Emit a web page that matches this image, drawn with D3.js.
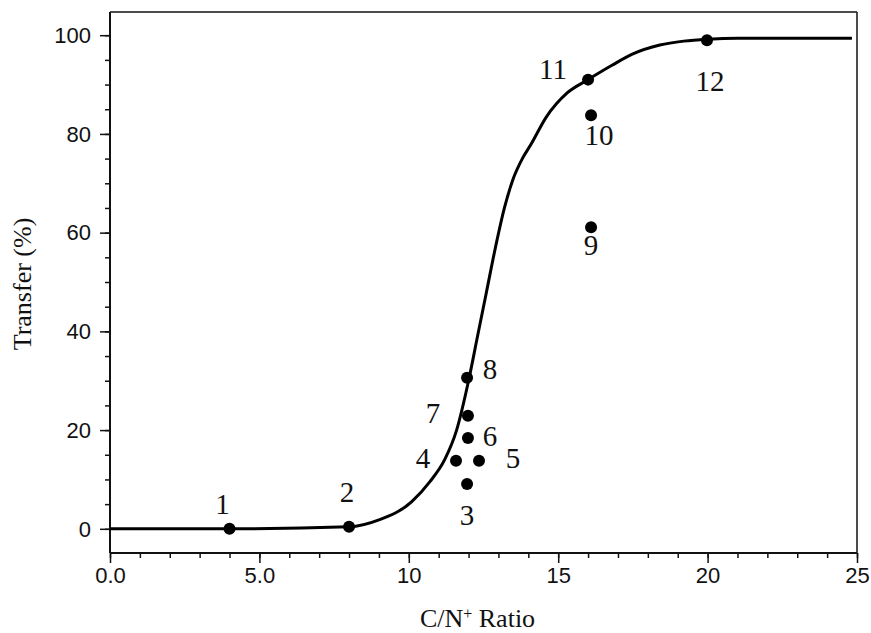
<!DOCTYPE html>
<html>
<head>
<meta charset="utf-8">
<script src="https://cdnjs.cloudflare.com/ajax/libs/d3/7.8.5/d3.min.js"></script>
<style>
  body { margin:0; background:#fff; }
</style>
</head>
<body>
<div id="plot"></div>
<script>
// measured points (C/N+ ratio vs transfer %)
var pointIds = ['1','2','3','4','5','6','7','8','9','10','11','12'];
var pointX = [4.0, 8.0, 11.95, 11.58, 12.35, 11.98, 11.98, 11.95, 16.1, 16.1, 16.0, 19.98];
var pointY = [0, 0.4, 9.1, 13.8, 13.8, 18.4, 22.9, 30.6, 61.1, 83.8, 91.0, 99.0];

// fitted curve
var curveX = [0, 4, 8, 9.0, 10.1, 10.7, 11.2, 11.6, 12.0, 12.3, 12.6, 12.9, 13.2, 13.5, 13.8, 14.1, 14.6, 15.3, 16.0, 16.8, 17.5, 18.4, 19.2, 20.0, 21.0, 24.83];
var curveY = [0, 0, 0.4, 1.8, 5.5, 9.5, 14.0, 20.0, 30.0, 39.0, 48.0, 57.0, 65.0, 71.0, 75.0, 78.0, 83.4, 88.3, 91.0, 93.9, 96.2, 98.0, 98.8, 99.2, 99.4, 99.4];

var xTicks = [0, 5, 10, 15, 20, 25];
var xTickLabels = ['0.0', '5.0', '10', '15', '20', '25'];
var yTicks = [0, 20, 40, 60, 80, 100];

var SANS = '"Liberation Sans", Arial, sans-serif',
    SERIF = '"Liberation Serif", "Times New Roman", serif';

var margin = {t:12, r:14, b:80, l:110};
var W = 871, H = 633;
var width = W - margin.l - margin.r,
    height = H - margin.t - margin.b;

var svg = d3.select('#plot')
    .append('svg')
    .attr('width', W)
    .attr('height', H);

var plot = svg.append('g')
    .attr('transform', 'translate(' + margin.l + ',' + margin.t + ')');

var x = d3.scaleLinear().domain([0, 25]).range([0, width]);
var y = d3.scaleLinear().domain([-4.9, 104.7]).range([height, 0]);

// frame: top and right are thin, left and bottom are the real axes
plot.append('line').attr('x1', 0).attr('x2', width).attr('y1', 0).attr('y2', 0)
    .style('stroke', '#111').style('stroke-width', 1.5);
plot.append('line').attr('x1', width).attr('x2', width).attr('y1', 0).attr('y2', height)
    .style('stroke', '#111').style('stroke-width', 1.5);

// x axis (major every 5, minor every 1)
var xAxis = d3.axisBottom(x).tickValues(xTicks).tickSize(10)
    .tickFormat(function(d, i){ return xTickLabels[i]; });
var xMinor = d3.axisBottom(x).tickValues(d3.range(0, 26, 1)).tickSize(5).tickFormat('');

plot.append('g').attr('transform', 'translate(0,' + height + ')').call(xMinor)
    .call(function(g){ g.select('.domain').remove(); })
    .selectAll('line').style('stroke', '#111').style('stroke-width', 1.5);

var gx = plot.append('g').attr('transform', 'translate(0,' + height + ')').call(xAxis);
gx.select('.domain').attr('d', 'M0,0H' + width).style('stroke', '#111').style('stroke-width', 2);
gx.selectAll('line').style('stroke', '#111').style('stroke-width', 1.5);
gx.selectAll('text').attr('y', 14).attr('dy', '0.71em');

// y axis (major every 20, minor every 5)
var yAxis = d3.axisLeft(y).tickValues(yTicks).tickSize(10);
var yMinor = d3.axisLeft(y).tickValues(d3.range(0, 101, 5)).tickSize(5).tickFormat('');

plot.append('g').call(yMinor)
    .call(function(g){ g.select('.domain').remove(); })
    .selectAll('line').style('stroke', '#111').style('stroke-width', 1.5);

var gy = plot.append('g').call(yAxis);
gy.select('.domain').attr('d', 'M0,0V' + height).style('stroke', '#111').style('stroke-width', 2);
gy.selectAll('line').style('stroke', '#111').style('stroke-width', 1.5);
gy.selectAll('text').attr('x', -19).attr('dy', '0.33em');

// tick label fonts, set inline so the axis defaults don't win
svg.selectAll('.tick text')
    .style('font-family', SANS)
    .style('font-size', '22px')
    .style('fill', '#111');

// the fitted curve
var curveData = curveX.map(function(d, i){ return {x:d, y:curveY[i]}; });
var line = d3.line()
    .x(function(d){ return x(d.x); })
    .y(function(d){ return y(d.y); })
    .curve(d3.curveMonotoneX);

plot.append('path')
    .datum(curveData)
    .attr('d', line)
    .style('fill', 'none')
    .style('stroke', '#000')
    .style('stroke-width', 3);

// dots
var points = pointIds.map(function(id, i){ return {id:id, x:pointX[i], y:pointY[i]}; });

plot.selectAll('.node')
    .data(points)
    .enter()
    .append('circle')
    .attr('class', 'node')
    .attr('cx', function(d){ return x(d.x); })
    .attr('cy', function(d){ return y(d.y); })
    .attr('r', 6)
    .style('fill', '#000');

// label offsets from each dot (px), placed by hand like the original
var labelOffset = {
    '1':[-7,-15], '2':[-2,-25], '3':[0,41], '4':[-33,7], '5':[34,7], '6':[22,8],
    '7':[-35,7], '8':[23,1], '9':[0,28], '10':[8,30], '11':[-35,-1], '12':[3,51]
};

plot.selectAll('.pt-label')
    .data(points)
    .enter()
    .append('text')
    .attr('class', 'pt-label')
    .attr('text-anchor', 'middle')
    .attr('x', function(d){ return x(d.x) + labelOffset[d.id][0]; })
    .attr('y', function(d){ return y(d.y) + labelOffset[d.id][1]; })
    .style('font-family', SERIF)
    .style('font-size', '29px')
    .style('fill', '#111')
    .text(function(d){ return d.id; });

// axis titles
var xt = svg.append('text')
    .attr('text-anchor', 'middle')
    .attr('x', margin.l + x(12.3))
    .attr('y', 627)
    .style('font-family', SERIF)
    .style('font-size', '26px')
    .style('fill', '#111');
xt.append('tspan').text('C/N');
xt.append('tspan').attr('baseline-shift', 'super').style('font-size', '16px').text('+');
xt.append('tspan').text(' Ratio');

svg.append('text')
    .attr('text-anchor', 'middle')
    .attr('transform', 'translate(31,284) rotate(-90)')
    .style('font-family', SERIF)
    .style('font-size', '26px')
    .style('fill', '#111')
    .text('Transfer (%)');
</script>
</body>
</html>
